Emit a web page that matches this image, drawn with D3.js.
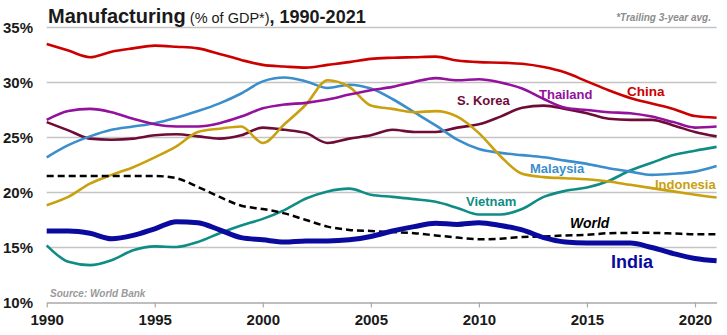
<!DOCTYPE html>
<html>
<head>
<meta charset="utf-8">
<script src="https://cdn.jsdelivr.net/npm/d3@7"></script>
<style>
  body { margin: 0; background: #fff; }
  svg { display: block; font-family: "Liberation Sans", Arial, sans-serif; }
</style>
</head>
<body>
<svg id="chart" width="727" height="335"></svg>
<script>
// manufacturing share of GDP, trailing 3-year average
years = d3.range(1990, 2022)
china     = [33.5,32.9,32.3,32.8,33.1,33.35,33.25,33.1,32.6,32.05,31.6,31.45,31.35,31.6,31.85,32.15,32.25,32.3,32.35,32.0,31.85,31.8,31.7,31.4,30.9,30.1,29.3,28.6,28.1,27.6,26.95,26.8]
thailand  = [26.6,27.4,27.6,27.3,26.7,26.2,26.0,26.0,26.3,26.9,27.65,28.0,28.15,28.45,28.9,29.3,29.6,30.05,30.4,30.2,30.3,30.0,29.45,28.5,27.7,27.5,27.3,27.2,26.9,26.4,25.9,26.0]
skorea    = [26.4,25.65,24.9,24.8,24.9,25.2,25.3,25.1,24.9,25.2,25.9,25.7,25.4,24.5,24.9,25.2,25.7,25.5,25.5,25.9,26.2,26.9,27.7,27.9,27.6,27.2,26.7,26.6,26.6,26.1,25.5,25.1]
malaysia  = [23.2,24.3,25.1,25.7,26.0,26.3,26.8,27.4,28.1,29.0,30.1,30.45,30.1,29.5,29.8,29.45,28.5,27.3,26.1,24.8,23.95,23.6,23.4,23.2,22.9,22.6,22.2,21.9,21.6,21.7,21.9,22.4]
indonesia = [18.85,19.6,20.8,21.6,22.3,23.2,24.2,25.5,25.8,26.0,24.5,26.2,28.0,30.2,29.6,27.9,27.6,27.3,27.4,26.9,25.4,23.3,21.7,21.4,21.3,21.2,21.0,20.7,20.4,20.1,19.8,19.55]
vietnam   = [15.2,13.7,13.4,13.85,14.75,15.1,15.05,15.5,16.3,17.0,17.6,18.4,19.45,20.1,20.35,19.8,19.6,19.4,19.15,18.6,18.0,18.0,18.5,19.6,20.15,20.45,21.05,22.0,22.7,23.4,23.8,24.15]
world     = [21.5,21.5,21.5,21.5,21.5,21.5,21.3,20.5,19.6,18.8,18.5,18.1,17.5,16.9,16.6,16.5,16.4,16.3,16.1,15.9,15.75,15.8,15.95,16.0,16.1,16.15,16.3,16.33,16.33,16.27,16.2,16.2]
india     = [16.5,16.5,16.3,15.8,16.1,16.7,17.35,17.25,16.6,15.9,15.7,15.5,15.6,15.6,15.7,16.0,16.5,16.9,17.2,17.1,17.25,17.0,16.6,15.9,15.5,15.4,15.4,15.4,15.0,14.45,14.0,13.8]

yTicks = [10, 15, 20, 25, 30, 35]
xTicks = [1990, 1995, 2000, 2005, 2010, 2015, 2020]

// drawn bottom to top
series = [
  {name: "Vietnam",   values: vietnam,   color: "#0f8c85", width: 2.6, lx: 466, ly: 201, size: 13},
  {name: "S. Korea",  values: skorea,    color: "#6e0c37", width: 2.6, lx: 457, ly: 100, size: 13},
  {name: "Malaysia",  values: malaysia,  color: "#3b8ecb", width: 2.6, lx: 530, ly: 168, size: 13},
  {name: "Indonesia", values: indonesia, color: "#c9a00e", width: 2.6, lx: 655, ly: 184, size: 13},
  {name: "Thailand",  values: thailand,  color: "#93129c", width: 2.6, lx: 539, ly: 94,  size: 13},
  {name: "China",     values: china,     color: "#cc0000", width: 2.6, lx: 627, ly: 91,  size: 13.5},
  {name: "World",     values: world,     color: "#000000", width: 2.5, lx: 570, ly: 223, size: 14, dash: "7,4", italic: true},
  {name: "India",     values: india,     color: "#0a0a9e", width: 5,   lx: 611, ly: 262, size: 18}
]

svg = d3.select("#chart")
x = d3.scaleLinear().domain([1990, 2021]).range([46.7, 716.6])
y = d3.scaleLinear().domain([10, 35]).range([302.5, 27.5])

// gridlines
svg.append("g").selectAll("line").data(yTicks.slice(1)).join("line")
  .attr("x1", x(1990)).attr("x2", x(2021))
  .attr("y1", d => y(d)).attr("y2", d => y(d))
  .attr("stroke", "#c4c4c4").attr("stroke-width", 1.5)

// x axis
xAxis = svg.append("g").attr("transform", "translate(0," + y(10) + ")")
  .call(d3.axisBottom(x).tickValues(xTicks).tickFormat(d3.format("d")).tickSize(5).tickSizeOuter(0))
xAxis.select(".domain").attr("stroke", "#a8a8a8").attr("stroke-width", 1.5)
xAxis.selectAll(".tick line").attr("stroke", "#a8a8a8").attr("stroke-width", 1.2)
xAxis.selectAll(".tick text").attr("y", 12)
  .attr("font-size", 15).attr("font-weight", "bold").attr("fill", "#1a1a1a")
  .attr("font-family", "Liberation Sans, Arial, sans-serif")

// y labels
svg.append("g").selectAll("text").data(yTicks).join("text")
  .attr("x", 33).attr("y", d => y(d)).attr("dy", "0.36em")
  .attr("text-anchor", "end")
  .attr("font-size", 15).attr("font-weight", "bold").attr("fill", "#1a1a1a")
  .text(d => d + "%")

line = d3.line().x((d, i) => x(years[i])).y(d => y(d)).curve(d3.curveMonotoneX)

svg.append("g").selectAll("path").data(series).join("path")
  .attr("d", d => line(d.values))
  .attr("fill", "none")
  .attr("stroke", d => d.color)
  .attr("stroke-width", d => d.width)
  .attr("stroke-dasharray", d => d.dash || null)
  .attr("stroke-linejoin", "round")

svg.append("g").selectAll("text").data(series).join("text")
  .attr("x", d => d.lx).attr("y", d => d.ly).attr("dy", "0.36em")
  .attr("font-size", d => d.size).attr("font-weight", "bold")
  .attr("font-style", d => d.italic ? "italic" : "normal")
  .attr("fill", d => d.color)
  .text(d => d.name)

// title
title = svg.append("text").attr("x", 48).attr("y", 23).attr("fill", "#1a1a1a")
title.append("tspan").attr("font-size", 20).attr("font-weight", "bold").text("Manufacturing")
title.append("tspan").attr("font-size", 14.5).text(" (% of GDP*)")
title.append("tspan").attr("font-size", 18).attr("font-weight", "bold").text(", 1990-2021")

svg.append("text").attr("x", 711).attr("y", 21).attr("text-anchor", "end")
  .attr("font-size", 10).attr("font-weight", "bold").attr("font-style", "italic")
  .attr("fill", "#8c8c8c").text("*Trailing 3-year avg.")

svg.append("text").attr("x", 50).attr("y", 297)
  .attr("font-size", 10).attr("font-weight", "bold").attr("font-style", "italic")
  .attr("fill", "#9a9a9a").text("Source: World Bank")
</script>
</body>
</html>
